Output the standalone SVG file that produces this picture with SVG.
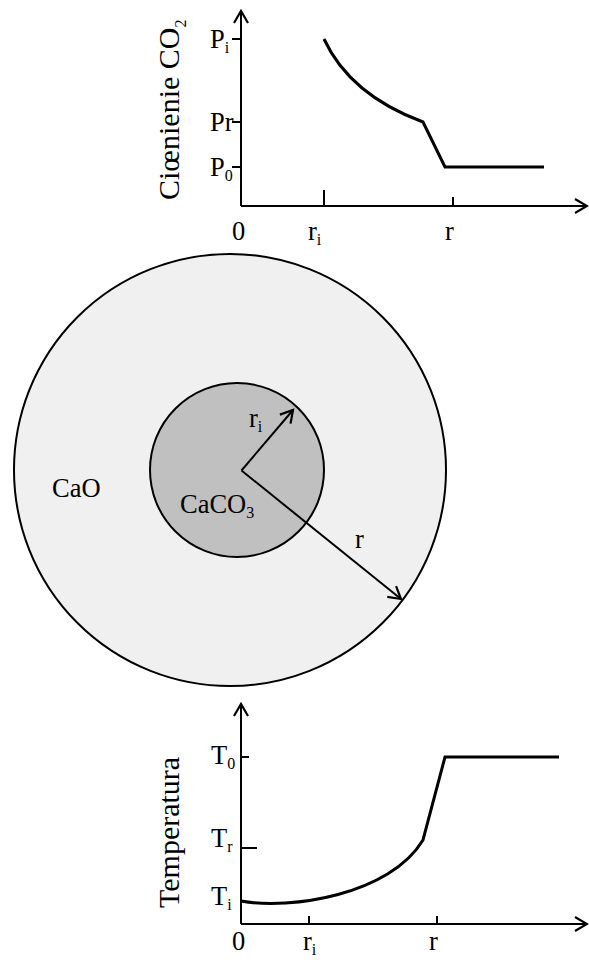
<svg xmlns="http://www.w3.org/2000/svg" width="589" height="963" viewBox="0 0 589 963">
<style>
text{font-family:"Liberation Serif","Times New Roman",serif;fill:#000}
.lbl{font-size:26.5px}
.sub{font-size:16px}
.big{font-size:30px}
.ax{stroke:#000;stroke-width:2;fill:none}
.crv{stroke:#000;stroke-width:3;fill:none;stroke-linejoin:miter}
</style>
<defs>
<marker id="arr" markerUnits="userSpaceOnUse" markerWidth="20" markerHeight="20" refX="0" refY="0" viewBox="-14 -10 16 20" orient="auto">
<path d="M-12,-7 L0,0 L-12,7" fill="none" stroke="#000" stroke-width="2.2"/>
</marker>
</defs>
<rect width="589" height="963" fill="#fff"/>

<g id="top-graph">
<path class="ax" d="M241,206 L241,11" marker-end="url(#arr)"/>
<path class="ax" d="M241,206 L587,206" marker-end="url(#arr)"/>
<path class="ax" d="M232,39 L241,39 M232,122 L241,122 M232,167 L241,167 M324,190 L324,206 M453,197 L453,206"/>
<path class="crv" d="M324,39 Q350,95 423,122 L445,167 L544,167"/>
<text class="lbl" x="210" y="48">P<tspan class="sub" dy="5">i</tspan></text>
<text class="lbl" x="210" y="131">Pr</text>
<text class="lbl" x="210" y="176">P<tspan class="sub" dy="5">0</tspan></text>
<text class="lbl" x="232" y="240">0</text>
<text class="lbl" x="308" y="240">r<tspan class="sub" dy="5">i</tspan></text>
<text class="lbl" x="445" y="240">r</text>
<text class="big" font-size="31.5" transform="translate(179,200) rotate(-90)">Ciœnienie CO<tspan class="sub" font-size="19" dy="7">2</tspan></text>
</g>

<g id="particle">
<circle cx="230" cy="470" r="216" fill="#f0f0f0" stroke="#000" stroke-width="2"/>
<circle cx="237" cy="470" r="87" fill="#c0c0c0" stroke="#000" stroke-width="2"/>
<text class="lbl" x="52" y="497">CaO</text>
<text class="lbl" x="180" y="513">CaCO<tspan class="sub" dy="5">3</tspan></text>
<text class="lbl" x="249" y="427">r<tspan class="sub" dy="5">i</tspan></text>
<text class="lbl" x="355" y="548">r</text>
</g>

<g id="connectors">
<path class="ax" d="M241.5,470.5 L293,410" marker-end="url(#arr)"/>
<path class="ax" d="M241.5,470.5 L401,599" marker-end="url(#arr)"/>
</g>

<g id="bottom-graph">
<path class="ax" d="M241,924 L241,704" marker-end="url(#arr)"/>
<path class="ax" d="M241,924 L587,924" marker-end="url(#arr)"/>
<path class="ax" d="M241,757 L249,757 M241,848 L257,848 M309,916 L309,924 M437,916 L437,924"/>
<path class="crv" d="M241,901 C290,910 390,895 423,840 L445,757 L559,757"/>
<text class="lbl" x="211" y="764">T<tspan class="sub" dy="5">0</tspan></text>
<text class="lbl" x="211" y="847">T<tspan class="sub" dy="5">r</tspan></text>
<text class="lbl" x="211" y="905">T<tspan class="sub" dy="5">i</tspan></text>
<text class="lbl" x="232" y="950">0</text>
<text class="lbl" x="303" y="950">r<tspan class="sub" dy="5">i</tspan></text>
<text class="lbl" x="429" y="950">r</text>
<text class="big" transform="translate(179,908) rotate(-90)">Temperatura</text>
</g>
</svg>
